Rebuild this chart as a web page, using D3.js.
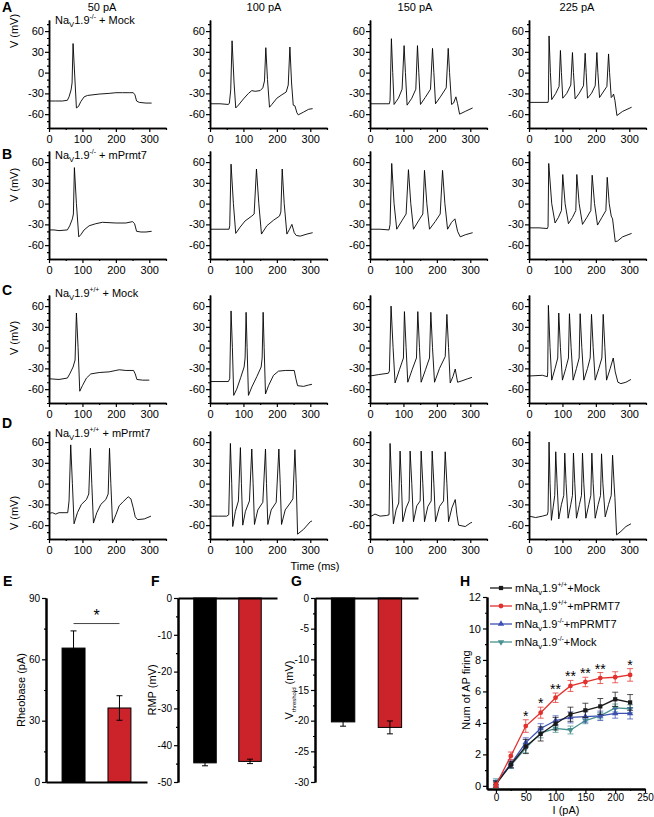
<!DOCTYPE html>
<html>
<head>
<meta charset="utf-8">
<script src="https://cdn.jsdelivr.net/npm/d3@7"></script>
<style>
  body { margin: 0; background: #fff; }
  svg { font-family: "Liberation Sans", Arial, sans-serif; }
</style>
</head>
<body>
<svg id="fig" width="654" height="817"></svg>
<script>
// ---- data ----
const columns = ["50 pA", "100 pA", "150 pA", "225 pA"];
const vTicks = [-60, -30, 0, 30, 60];
const vMinor = [-80, -70, -50, -40, -20, -10, 10, 20, 40, 50, 70];
const tTicks = [0, 100, 200, 300];
const tMinor = [50, 150, 250, 350];

// row A: Nav1.9-/- + Mock   [time ms, V mV]
const a50 = [[0,-41],[20,-41],[40,-41],[55,-40],[60,-35],[66,-25],[69,-15],[72,42],[77,-5],[82,-51],[88,-49],[95,-42],[105,-35],[115,-33],[150,-31],[180,-30],[200,-29],[220,-29],[240,-29],[252,-29],[257,-32],[262,-41],[270,-43],[290,-44],[307,-44]];
const a100 = [[0,-45],[30,-45],[55,-46],[58,-44],[62,-25],[66,46],[72,-15],[77,-51],[85,-47],[100,-38],[115,-30],[125,-26],[135,-27],[150,-26],[158,-22],[163,-12],[167,36],[172,-10],[178,-50],[185,-46],[200,-37],[215,-32],[228,-28],[234,-18],[239,37],[244,-15],[249,-47],[254,-48],[260,-58],[264,-61],[280,-57],[295,-53],[307,-52]];
const a150 = [[0,-45],[30,-45],[58,-45],[60,-40],[64,49],[68,0],[72,-46],[85,-37],[96,-24],[102,39],[106,0],[111,-47],[125,-37],[137,-24],[142,39],[146,0],[151,-46],[165,-36],[181,-24],[187,35],[191,0],[196,-45],[212,-34],[228,-22],[234,35],[238,0],[244,-46],[250,-44],[257,-35],[262,-45],[268,-60],[285,-56],[307,-51]];
const a225 = [[0,-43],[30,-43],[57,-43],[58,-40],[60,53],[64,0],[68,-39],[80,-30],[90,-20],[94,32],[97,0],[101,-37],[113,-30],[125,-18],[130,29],[133,0],[138,-38],[150,-30],[163,-19],[168,28],[171,0],[175,-37],[187,-30],[198,-19],[203,29],[206,0],[211,-36],[222,-28],[233,-20],[238,27],[241,0],[246,-36],[250,-34],[253,-31],[257,-40],[263,-62],[280,-56],[307,-50]];

// row B: Nav1.9-/- + mPrmt7
const b50 = [[0,-38],[15,-38],[30,-39],[55,-38],[62,-32],[70,-22],[73,-15],[76,52],[82,0],[89,-48],[95,-45],[105,-38],[120,-32],[140,-29],[160,-27],[200,-28],[230,-28],[250,-26],[256,-29],[262,-40],[275,-41],[290,-41],[307,-40]];
const b100 = [[0,-37],[30,-37],[57,-37],[59,-32],[63,57],[70,0],[77,-43],[90,-34],[105,-25],[125,-18],[132,-15],[139,50],[146,0],[154,-44],[170,-32],[190,-24],[208,-18],[212,-12],[216,50],[222,0],[230,-44],[238,-37],[245,-30],[252,-42],[258,-46],[270,-47],[290,-44],[307,-42]];
const b150 = [[0,-37],[30,-37],[57,-38],[60,-30],[65,58],[72,0],[80,-37],[95,-25],[108,-15],[115,49],[122,0],[130,-37],[145,-25],[158,-15],[163,48],[170,0],[178,-37],[195,-26],[210,-15],[217,48],[224,0],[232,-37],[244,-27],[254,-22],[262,-40],[270,-48],[285,-45],[307,-42]];
const b225 = [[0,-35],[30,-35],[55,-36],[57,-33],[59,58],[68,0],[78,-28],[88,-20],[97,-10],[101,42],[108,0],[118,-29],[130,-20],[140,-10],[143,42],[150,0],[160,-30],[173,-20],[185,-10],[189,41],[196,0],[205,-31],[218,-20],[230,-10],[234,38],[240,0],[246,-18],[250,-22],[258,-55],[265,-54],[280,-48],[307,-43]];

// row C: Nav1.9+/+ + Mock
const c50 = [[0,-45],[30,-46],[55,-44],[62,-38],[72,-28],[78,-18],[82,50],[87,0],[92,-63],[100,-55],[112,-44],[125,-38],[150,-36],[180,-35],[200,-33],[210,-32],[230,-33],[253,-33],[258,-38],[263,-46],[280,-47],[300,-47]];
const c100 = [[0,-49],[30,-49],[55,-49],[59,-45],[63,53],[67,0],[71,-69],[80,-60],[92,-43],[102,-28],[105,-15],[108,51],[111,0],[115,-69],[125,-57],[140,-42],[153,-28],[156,-15],[159,51],[162,0],[166,-67],[175,-55],[190,-40],[205,-34],[225,-33],[252,-33],[257,-45],[262,-55],[280,-56],[295,-54],[305,-53]];
const c150 = [[0,-41],[25,-39],[55,-37],[58,-34],[63,60],[69,0],[75,-51],[88,-32],[100,-15],[103,52],[108,0],[113,-50],[126,-32],[139,-15],[143,52],[148,0],[153,-50],[166,-32],[178,-15],[182,51],[187,0],[193,-50],[208,-30],[225,-13],[230,48],[235,0],[240,-51],[248,-42],[255,-31],[262,-50],[275,-48],[292,-45],[305,-43]];
const c225 = [[0,-41],[40,-40],[55,-42],[56,-35],[58,61],[63,0],[68,-47],[78,-30],[86,-15],[89,50],[94,0],[100,-47],[110,-30],[118,-15],[121,49],[126,0],[132,-47],[142,-30],[150,-15],[153,49],[158,0],[164,-47],[175,-30],[183,-15],[187,48],[192,0],[198,-47],[209,-30],[218,-15],[222,48],[227,0],[232,-47],[243,-30],[252,-15],[258,-35],[266,-50],[275,-52],[290,-50],[305,-46]];

// row D: Nav1.9+/+ + mPrmt7
const d50 = [[0,-43],[10,-42],[20,-44],[30,-42],[45,-42],[56,-42],[60,-25],[65,56],[70,0],[75,-58],[85,-42],[97,-30],[112,-23],[119,-15],[124,51],[128,0],[133,-57],[143,-42],[155,-30],[170,-23],[177,-15],[181,51],[185,0],[190,-57],[200,-45],[210,-32],[222,-26],[237,-19],[245,-22],[252,-35],[258,-48],[265,-52],[285,-51],[305,-47]];
const d100 = [[0,-47],[25,-47],[50,-47],[56,-45],[61,58],[65,0],[68,-62],[76,-40],[85,-25],[91,52],[94,0],[98,-60],[106,-40],[118,-25],[125,50],[129,0],[133,-59],[143,-38],[158,-27],[166,50],[169,0],[173,-59],[183,-38],[198,-27],[206,50],[210,0],[214,-59],[225,-38],[240,-28],[248,-22],[254,49],[258,0],[262,-73],[280,-66],[300,-55],[305,-54]];
const d150 = [[0,-48],[15,-44],[30,-47],[50,-46],[57,-45],[60,58],[65,0],[70,-58],[78,-38],[86,-28],[90,47],[94,0],[98,-55],[108,-35],[117,-25],[120,47],[125,0],[130,-55],[140,-32],[150,-25],[153,47],[158,0],[163,-55],[173,-33],[183,-25],[186,47],[191,0],[196,-55],[208,-33],[220,-25],[225,46],[230,0],[235,-55],[245,-35],[255,-23],[260,-45],[265,-60],[285,-62],[300,-57],[305,-56]];
const d225 = [[0,-47],[20,-49],[40,-47],[55,-45],[57,-40],[60,60],[63,0],[67,-53],[72,-35],[77,-17],[80,46],[84,0],[89,-51],[97,-30],[104,-17],[107,44],[111,0],[117,-50],[125,-30],[130,-17],[133,44],[137,0],[142,-50],[151,-30],[157,-17],[160,44],[164,0],[170,-50],[179,-30],[185,-17],[188,44],[192,0],[198,-50],[207,-30],[214,-17],[217,43],[221,0],[228,-48],[238,-30],[246,-17],[250,41],[255,-5],[257,-20],[262,-74],[275,-69],[290,-62],[305,-58]];

// E-G bars
const barGroups = ["Mock", "mPrmt7"];
const barColors = ["#000000", "#cc2229"];
const rheobase = [65.5, 36.2];
const rheobaseErr = [8.4, 6];
const rmp = [-44.8, -44.4];
const rmpErr = [0.8, 0.6];
const vThreshold = [-20.2, -21.1];
const vThresholdErr = [0.7, 1.05];
const rheobaseSig = 77.5;

// H: firing vs current
const currents = [0, 25, 50, 75, 100, 125, 150, 175, 200, 225];
const mockWT = [0.1, 1.35, 2.5, 3.3, 3.95, 4.55, 4.8, 5.05, 5.5, 5.3];
const mockWTErr = [0.2, 0.2, 0.45, 0.45, 0.4, 0.45, 0.45, 0.5, 0.45, 0.5];
const prmtWT = [0.05, 1.9, 3.8, 4.65, 5.6, 6.35, 6.6, 6.85, 6.9, 7.05];
const prmtWTErr = [0.15, 0.25, 0.4, 0.35, 0.3, 0.35, 0.3, 0.35, 0.35, 0.4];
const prmtKO = [0.15, 1.4, 2.75, 3.65, 4.15, 4.35, 4.4, 4.45, 4.6, 4.6];
const prmtKOErr = [0.2, 0.25, 0.3, 0.3, 0.3, 0.35, 0.35, 0.3, 0.3, 0.35];
const mockKO = [0.25, 1.3, 2.4, 3.35, 3.65, 3.55, 4.15, 4.45, 4.95, 4.9];
const mockKOErr = [0.2, 0.2, 0.3, 0.3, 0.25, 0.25, 0.2, 0.2, 0.25, 0.25];
const sigStars = ["", "", "*", "*", "**", "**", "**", "**", "", "*"];

// ---- drawing ----
const svg = d3.select("#fig");
const fmt = d => String(d);

function styleAxis(g, w) {
  g.attr("font-size", 11).attr("font-family", null);
  g.select(".domain").attr("stroke-width", w || 1.5);
  g.selectAll(".tick line").attr("stroke-width", 1.2);
  g.selectAll(".tick text").attr("fill", "#000");
}

// "NaV1.9xx + ..." style label with sub/superscripts
function naText(sel, pre, sub, sup, rest, size) {
  sel.append("tspan").text(pre + "Na");
  sel.append("tspan").attr("font-size", size * 0.7).attr("dy", 3).text(sub);
  sel.append("tspan").attr("dy", -3).text("1.9");
  sel.append("tspan").attr("font-size", size * 0.62).attr("dy", -5).text(sup);
  sel.append("tspan").attr("dy", 5).text(rest);
}

// ---- A-D voltage traces ----
const traceRows = [[a50, a100, a150, a225], [b50, b100, b150, b225], [c50, c100, c150, c225], [d50, d100, d150, d225]];
const rowBase = [128, 259, 403, 539];
const colLeft = [49, 210, 370, 529];
const panelW = 117, panelH = 108;
const rowLetters = ["A", "B", "C", "D"];
const rowSup = ["-/-", "-/-", "+/+", "+/+"];
const rowRest = [" + Mock", " + mPrmt7", " + Mock", " + mPrmt7"];
const rowLabelY = [24, 159, 297, 437];
const letterY = [12, 159, 295, 428];
const vLabelY = [31, 185, 338, 513];

traceRows.forEach((row, r) => {
  row.forEach((pts, c) => {
    const x = d3.scaleLinear().domain([0, 350]).range([colLeft[c], colLeft[c] + panelW]);
    const y = d3.scaleLinear().domain([-80, 76]).range([rowBase[r], rowBase[r] - panelH]);
    const g = svg.append("g");

    g.append("g").attr("transform", `translate(${colLeft[c]},0)`)
      .call(d3.axisLeft(y).tickValues(vMinor).tickSize(2).tickSizeOuter(0).tickFormat(""))
      .call(styleAxis);
    g.append("g").attr("transform", `translate(${colLeft[c]},0)`)
      .call(d3.axisLeft(y).tickValues(vTicks).tickSize(4).tickPadding(1).tickSizeOuter(0).tickFormat(fmt))
      .call(styleAxis);
    g.append("g").attr("transform", `translate(0,${rowBase[r]})`)
      .call(d3.axisBottom(x).tickValues(tMinor).tickSize(2).tickSizeOuter(0).tickFormat(""))
      .call(styleAxis);
    g.append("g").attr("transform", `translate(0,${rowBase[r]})`)
      .call(d3.axisBottom(x).tickValues(tTicks).tickSize(4).tickPadding(3).tickSizeOuter(0).tickFormat(fmt))
      .call(styleAxis);

    g.append("path").datum(pts)
      .attr("d", d3.line().x(d => x(d[0])).y(d => y(d[1])))
      .attr("fill", "none").attr("stroke", "#000").attr("stroke-width", 0.9)
      .attr("stroke-linejoin", "round");
  });

  svg.append("text").attr("x", 2).attr("y", letterY[r]).attr("font-size", 14)
    .attr("font-weight", "bold").text(rowLetters[r]);
  svg.append("text").attr("x", 55).attr("y", rowLabelY[r]).attr("font-size", 11)
    .call(t => naText(t, "", "V", rowSup[r], rowRest[r], 11));
  svg.append("text").attr("transform", `translate(14,${vLabelY[r]}) rotate(-90)`)
    .attr("text-anchor", "middle").attr("dy", "0.35em").attr("font-size", 11).text("V (mV)");
});

const colTitleX = [102, 264, 415, 577];
columns.forEach((t, i) => {
  svg.append("text").attr("x", colTitleX[i]).attr("y", 11).attr("text-anchor", "middle")
    .attr("font-size", 11).text(t);
});
svg.append("text").attr("x", 315).attr("y", 570).attr("text-anchor", "middle")
  .attr("font-size", 11).text("Time (ms)");

// ---- E-G bar panels ----
function barPanel(o) {
  const y = d3.scaleLinear().domain(o.domain).range([782, 598]);
  const x = d3.scaleBand().domain(barGroups).range([o.left, o.right])
    .paddingInner(0.5).paddingOuter(0.35);
  const g = svg.append("g");

  g.append("g").attr("transform", `translate(${o.left},0)`)
    .call(d3.axisLeft(y).tickValues(o.minor).tickSize(2).tickSizeOuter(0).tickFormat(""))
    .call(a => styleAxis(a, 2));
  g.append("g").attr("transform", `translate(${o.left},0)`)
    .call(d3.axisLeft(y).tickValues(o.ticks).tickSize(4).tickPadding(2).tickSizeOuter(0).tickFormat(fmt))
    .call(a => styleAxis(a, 2))
    .attr("font-size", 10);

  g.selectAll("rect.bar").data(o.values).join("rect").attr("class", "bar")
    .attr("x", (d, i) => x(barGroups[i]))
    .attr("width", x.bandwidth())
    .attr("y", d => Math.min(y(0), y(d)))
    .attr("height", d => Math.abs(y(d) - y(0)))
    .attr("fill", (d, i) => barColors[i])
    .attr("stroke", "#000").attr("stroke-width", 1);

  const eb = g.selectAll("g.err").data(o.values).join("g").attr("class", "err")
    .attr("stroke", "#000").attr("stroke-width", 1);
  eb.append("line")
    .attr("x1", (d, i) => x(barGroups[i]) + x.bandwidth() / 2)
    .attr("x2", (d, i) => x(barGroups[i]) + x.bandwidth() / 2)
    .attr("y1", (d, i) => y(d - o.errs[i])).attr("y2", (d, i) => y(d + o.errs[i]));
  [-1, 1].forEach(s => {
    eb.append("line")
      .attr("x1", (d, i) => x(barGroups[i]) + x.bandwidth() / 2 - 3)
      .attr("x2", (d, i) => x(barGroups[i]) + x.bandwidth() / 2 + 3)
      .attr("y1", (d, i) => y(d + s * o.errs[i])).attr("y2", (d, i) => y(d + s * o.errs[i]));
  });

  // category axis sits at value 0
  g.append("g").attr("transform", `translate(0,${y(0)})`)
    .call(d3.axisBottom(x).tickValues([]).tickSizeOuter(0))
    .call(a => styleAxis(a, 2));

  const lab = svg.append("text").attr("transform", `translate(${o.labelX},690) rotate(-90)`)
    .attr("text-anchor", "middle").attr("dy", "0.35em").attr("font-size", 11);
  o.label(lab);
  svg.append("text").attr("x", o.letterX).attr("y", 586).attr("font-size", 14)
    .attr("font-weight", "bold").text(o.letter);
  return { x, y };
}

const E = barPanel({
  left: 46, right: 147, domain: [0, 90], values: rheobase, errs: rheobaseErr,
  ticks: [0, 30, 60, 90], minor: [15, 45, 75], labelX: 21, letter: "E", letterX: 3,
  label: t => t.text("Rheobase (pA)")
});
// significance bracket in E
const sx1 = E.x(barGroups[0]) + E.x.bandwidth() / 2, sx2 = E.x(barGroups[1]) + E.x.bandwidth() / 2;
svg.append("line").attr("x1", sx1).attr("x2", sx2).attr("y1", E.y(rheobaseSig)).attr("y2", E.y(rheobaseSig))
  .attr("stroke", "#444").attr("stroke-width", 1);
svg.append("text").attr("x", (sx1 + sx2) / 2).attr("y", E.y(rheobaseSig) - 3)
  .attr("text-anchor", "middle").attr("font-size", 16).text("*");

barPanel({
  left: 178, right: 277, domain: [-50, 0], values: rmp, errs: rmpErr,
  ticks: [0, -10, -20, -30, -40, -50], minor: [-5, -15, -25, -35, -45], labelX: 152,
  letter: "F", letterX: 151, label: t => t.text("RMP (mV)")
});
barPanel({
  left: 315, right: 418, domain: [-30, 0], values: vThreshold, errs: vThresholdErr,
  ticks: [0, -5, -10, -15, -20, -25, -30], minor: [-2.5, -7.5, -12.5, -17.5, -22.5, -27.5],
  labelX: 289, letter: "G", letterX: 291,
  label: t => {
    t.append("tspan").text("V");
    t.append("tspan").attr("font-size", 6).attr("dy", 3).text("threshold");
    t.append("tspan").attr("dy", -3).text(" (mV)");
  }
});

// ---- H: AP count vs current ----
const hx = d3.scaleLinear().domain([-15, 250]).range([487, 645]);
const hy = d3.scaleLinear().domain([-0.2, 12]).range([789, 597]);
const gH = svg.append("g");
gH.append("g").attr("transform", "translate(487,0)")
  .call(d3.axisLeft(hy).tickValues([1, 3, 5, 7, 9, 11]).tickSize(2).tickSizeOuter(0).tickFormat(""))
  .call(a => styleAxis(a, 2));
gH.append("g").attr("transform", "translate(487,0)")
  .call(d3.axisLeft(hy).tickValues([0, 2, 4, 6, 8, 10, 12]).tickSize(4).tickPadding(2).tickSizeOuter(0).tickFormat(fmt))
  .call(a => styleAxis(a, 2));
gH.append("g").attr("transform", "translate(0,789)")
  .call(d3.axisBottom(hx).tickValues([25, 75, 125, 175, 225]).tickSize(2).tickSizeOuter(0).tickFormat(""))
  .call(a => styleAxis(a, 2));
gH.append("g").attr("transform", "translate(0,789)")
  .call(d3.axisBottom(hx).tickValues([0, 50, 100, 150, 200, 250]).tickSize(4).tickPadding(1).tickSizeOuter(0).tickFormat(fmt))
  .call(a => styleAxis(a, 2))
  .attr("font-size", 10);

const series = [
  { name: "Mock", sup: "+/+", rest: "+Mock", vals: mockWT, errs: mockWTErr, color: "#1a1a1a", sym: d3.symbolSquare, rot: 0 },
  { name: "PRMT7 WT", sup: "+/+", rest: "+mPRMT7", vals: prmtWT, errs: prmtWTErr, color: "#e2312d", sym: d3.symbolCircle, rot: 0 },
  { name: "PRMT7 KO", sup: "-/-", rest: "+mPRMT7", vals: prmtKO, errs: prmtKOErr, color: "#3d4fb0", sym: d3.symbolTriangle, rot: 0 },
  { name: "Mock KO", sup: "-/-", rest: "+Mock", vals: mockKO, errs: mockKOErr, color: "#4a9290", sym: d3.symbolTriangle, rot: 180 }
];
const drawOrder = [3, 2, 0, 1];
drawOrder.forEach(si => {
  const s = series[si];
  const pts = currents.map((c, i) => ({ c, v: s.vals[i], e: s.errs[i] }));
  const g = gH.append("g");
  const eg = g.selectAll("g").data(pts).join("g")
    .attr("stroke", s.color).attr("stroke-opacity", 0.75).attr("stroke-width", 1);
  eg.append("line").attr("x1", d => hx(d.c)).attr("x2", d => hx(d.c))
    .attr("y1", d => hy(d.v - d.e)).attr("y2", d => hy(d.v + d.e));
  [-1, 1].forEach(k => {
    eg.append("line").attr("x1", d => hx(d.c) - 3).attr("x2", d => hx(d.c) + 3)
      .attr("y1", d => hy(d.v + k * d.e)).attr("y2", d => hy(d.v + k * d.e));
  });
  g.append("path").datum(pts)
    .attr("d", d3.line().x(d => hx(d.c)).y(d => hy(d.v)))
    .attr("fill", "none").attr("stroke", s.color).attr("stroke-width", 1.3);
  g.selectAll("path.m").data(pts).join("path").attr("class", "m")
    .attr("d", d3.symbol(s.sym, 18))
    .attr("transform", d => `translate(${hx(d.c)},${hy(d.v)}) rotate(${s.rot})`)
    .attr("fill", s.color);
});

// significance stars over the red series
gH.selectAll("text.star").data(currents.map((c, i) => ({ c, s: sigStars[i], top: prmtWT[i] + prmtWTErr[i] })))
  .join("text").attr("class", "star")
  .attr("x", d => hx(d.c)).attr("y", d => hy(d.top) + 1)
  .attr("text-anchor", "middle").attr("font-size", 14).text(d => d.s);

// legend
series.forEach((s, i) => {
  const ly = 588 + i * 18;
  const lg = gH.append("g");
  lg.append("line").attr("x1", 490).attr("x2", 512).attr("y1", ly).attr("y2", ly)
    .attr("stroke", s.color).attr("stroke-width", 1.3);
  lg.append("path").attr("d", d3.symbol(s.sym, 18))
    .attr("transform", `translate(501,${ly}) rotate(${s.rot})`).attr("fill", s.color);
  lg.append("text").attr("x", 515).attr("y", ly + 4).attr("font-size", 11)
    .call(t => naText(t, "m", "v", s.sup, s.rest, 11));
});

svg.append("text").attr("transform", "translate(466,690) rotate(-90)")
  .attr("text-anchor", "middle").attr("dy", "0.35em").attr("font-size", 11).text("Num of AP firing");
svg.append("text").attr("x", 566).attr("y", 814).attr("text-anchor", "middle")
  .attr("font-size", 11).text("I (pA)");
svg.append("text").attr("x", 460).attr("y", 586).attr("font-size", 14)
  .attr("font-weight", "bold").text("H");
</script>
</body>
</html>
